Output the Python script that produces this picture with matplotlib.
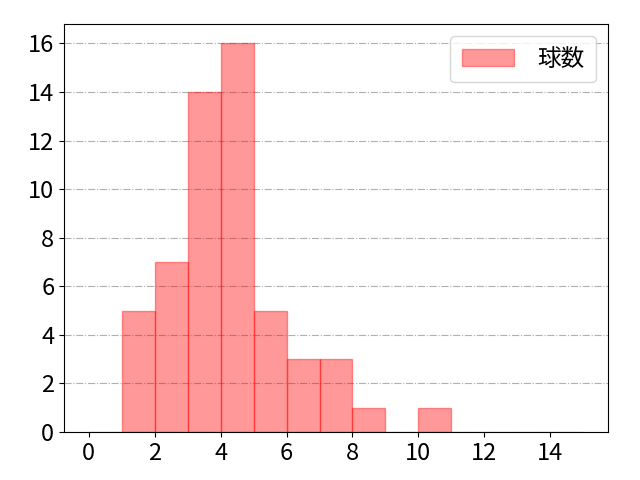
import matplotlib
matplotlib.use("Agg")
import matplotlib.pyplot as plt
from matplotlib.ticker import MultipleLocator
import numpy as np

plt.rcParams['font.family'] = ['Noto Sans CJK JP', 'DejaVu Sans']
plt.rcParams['font.size'] = 17

# pitch-count bins (width 1) and counts
bin_edges = list(range(0, 16))
bin_counts = [0, 5, 7, 14, 16, 5, 3, 3, 1, 0, 1, 0, 0, 0, 0]
label = "球数"

fig, ax = plt.subplots(figsize=(6.4, 4.8), dpi=100)
fig.subplots_adjust(left=0.1, right=0.95, bottom=0.1, top=0.95)
ax.hist(bin_edges[:-1], bins=bin_edges, weights=bin_counts,
        color="red", alpha=0.4, edgecolor="red", linewidth=1,
        label=label, zorder=2)
ax.set_xticks(np.arange(0, 16, 2))
ax.yaxis.set_major_locator(MultipleLocator(2))
ax.grid(axis="y", linestyle="-.", color="#b0b0b0", linewidth=0.8, zorder=0)
ax.set_axisbelow(True)
ax.legend(loc="upper right", handlelength=2.2, handletextpad=1.0, borderpad=0.5)
fig.savefig("out.png", dpi=100)
